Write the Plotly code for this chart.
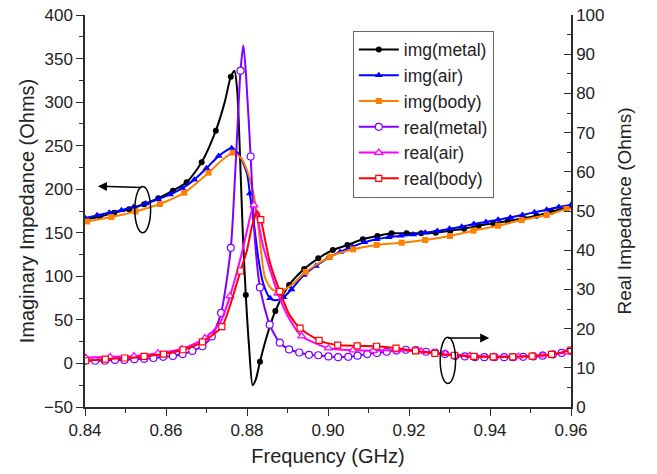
import plotly.graph_objects as go

# ---------------- data (frequency in GHz, impedance in Ohms) ----------------
# Imaginary part, metal environment (markers + extra points shaping the resonance)
img_metal_f = [0.8437, 0.8472, 0.8509, 0.8546, 0.8581, 0.8617, 0.8651, 0.8688, 0.8723,
               0.8760, 0.8797, 0.8832, 0.8870, 0.8904, 0.8941, 0.8976, 0.9012, 0.9048,
               0.9086, 0.9122, 0.9157, 0.9194, 0.9230, 0.9266, 0.9302, 0.9336, 0.9372,
               0.9408, 0.9444, 0.9481, 0.9515, 0.9552, 0.9589]
img_metal_v = [168.4, 173.0, 177.0, 182.7, 189.6, 198.3, 208.0, 230.9, 267.2,
               329.2, 78.5, 2.0, 60.2, 90.0, 108.4, 120.7, 130.2, 135.9,
               142.5, 146.3, 149.4, 149.4, 149.4, 150.1, 152.4, 154.7, 158.1,
               160.8, 163.5, 166.6, 169.6, 174.2, 178.8]
img_metal_f_extra = [0.8400, 0.8745, 0.8769, 0.8776, 0.8783, 0.8790, 0.8805, 0.8814, 0.8822, 0.8850, 0.9600]
img_metal_v_extra = [165.5, 300.0, 336.0, 312.0, 235.0, 145.0, 20.0, -25.0, -18.0, 33.0, 179.5]

# Imaginary part, air
img_air_f = [0.840, 0.843, 0.846, 0.849, 0.852, 0.855, 0.858, 0.861, 0.864, 0.867, 0.870,
             0.873, 0.8762, 0.8807, 0.8857, 0.889, 0.891, 0.894, 0.897, 0.900, 0.903, 0.906,
             0.909, 0.912, 0.915, 0.918, 0.921, 0.924, 0.927, 0.930, 0.933, 0.936, 0.939,
             0.942, 0.945, 0.948, 0.951, 0.954, 0.957, 0.960]
img_air_v = [167.0, 170.0, 173.0, 176.0, 179.5, 183.5, 188.5, 194.0, 201.0, 211.0, 224.0,
             238.0, 247.0, 195.0, 74.7, 76.0, 85.0, 101.5, 112.0, 121.0, 128.0, 134.0,
             139.0, 142.5, 145.0, 146.5, 148.0, 150.0, 152.0, 154.5, 157.0, 160.0, 162.5,
             165.0, 167.5, 170.5, 173.5, 176.5, 179.5, 182.0]
img_air_f_extra = [0.8780, 0.8800, 0.8820, 0.8828, 0.8840, 0.8870]
img_air_v_extra = [240.0, 218.0, 150.0, 120.7, 92.0, 72.5]

# Imaginary part, body
img_body_f = [0.8405, 0.8465, 0.8525, 0.8585, 0.8645, 0.8705, 0.8765, 0.8825, 0.8885,
              0.8945, 0.9005, 0.9062, 0.9120, 0.9182, 0.9240, 0.9301, 0.9359, 0.9420,
              0.9478, 0.9540, 0.9589]
img_body_v = [163.0, 168.0, 174.5, 183.0, 196.0, 219.0, 242.0, 170.0, 83.0,
              105.0, 122.5, 131.0, 136.0, 138.6, 141.7, 146.3, 152.4, 158.1,
              164.6, 170.4, 177.3]
img_body_f_extra = [0.8400, 0.8735, 0.8785, 0.8800, 0.8816, 0.8844, 0.8860, 0.8873, 0.8910, 0.9600]
img_body_v_extra = [162.7, 232.0, 236.0, 222.0, 195.0, 99.5, 86.0, 82.5, 90.0, 178.0]

# Real part, metal
real_metal_f = [0.8400, 0.8425, 0.8449, 0.8474, 0.8497, 0.8522, 0.8546, 0.8569, 0.8593,
                0.8617, 0.8641, 0.8665, 0.8690, 0.8713, 0.8736, 0.8760, 0.8784, 0.8809,
                0.8832, 0.8856, 0.8881, 0.8904, 0.8929, 0.8953, 0.8976, 0.9001, 0.9025,
                0.9050, 0.9073, 0.9097, 0.9121, 0.9145, 0.9169, 0.9192, 0.9217, 0.9242,
                0.9264, 0.9289, 0.9314, 0.9338, 0.9363, 0.9386, 0.9411, 0.9435, 0.9457,
                0.9482, 0.9507, 0.9530, 0.9555, 0.9577, 0.9600]
real_metal_v = [11.8, 11.8, 11.8, 12.0, 12.0, 12.2, 12.3, 12.5, 12.8,
                13.0, 13.5, 14.3, 15.5, 18.0, 24.0, 40.6, 85.8, 63.9,
                30.5, 21.0, 16.4, 14.7, 13.9, 13.3, 13.2, 12.9, 12.7,
                12.8, 13.1, 13.5, 13.8, 14.1, 14.4, 14.6, 14.5, 14.1,
                13.9, 13.5, 13.0, 12.9, 12.7, 12.7, 12.7, 12.7, 12.7,
                12.8, 12.9, 13.1, 13.4, 13.8, 14.3]
real_metal_f_extra = [0.8772, 0.8791, 0.8798, 0.8820]
real_metal_v_extra = [62.0, 92.3, 84.0, 42.0]

# Real part, air
real_air_f = [0.8402, 0.8462, 0.8521, 0.8580, 0.8639, 0.8696, 0.8758, 0.8817, 0.8876,
              0.8935, 0.9001, 0.9062, 0.9112, 0.9170, 0.9230, 0.9290, 0.9350, 0.9410,
              0.9470, 0.9530, 0.9590]
real_air_v = [12.6, 12.8, 13.0, 13.7, 14.8, 17.6, 28.3, 51.5, 29.0,
              18.1, 15.0, 14.5, 14.4, 14.5, 14.2, 13.6, 13.1, 12.9,
              12.9, 13.2, 14.0]
real_air_f_extra = [0.8400, 0.8733, 0.8787, 0.8800, 0.8840, 0.8865, 0.8906, 0.9600]
real_air_v_extra = [12.5, 21.4, 39.2, 45.0, 40.9, 32.4, 22.2, 14.5]

# Real part, body
real_body_f = [0.8402, 0.8450, 0.8498, 0.8546, 0.8594, 0.8642, 0.8690, 0.8738, 0.8784,
               0.8834, 0.8881, 0.8931, 0.8978, 0.9024, 0.9072, 0.9120, 0.9168, 0.9216,
               0.9264, 0.9312, 0.9360, 0.9408, 0.9456, 0.9504, 0.9552, 0.9600]
real_body_v = [11.8, 12.2, 12.5, 12.9, 13.5, 14.6, 16.6, 20.5, 34.7,
               47.8, 29.5, 20.1, 17.0, 15.8, 15.6, 15.5, 15.0, 14.3,
               13.7, 13.2, 12.9, 12.8, 12.8, 13.0, 13.4, 14.5]
real_body_f_extra = [0.8400, 0.8760, 0.8800, 0.8812, 0.8825, 0.8857, 0.8905]
real_body_v_extra = [11.7, 26.5, 40.0, 46.0, 50.0, 36.7, 23.5]

# ---------------- styling ----------------
FONT = "Arial, Liberation Sans, sans-serif"
AX = "#2b2b2b"

series = [
    ("img(metal)", "#000000", "circle", False, "y", img_metal_f, img_metal_v, img_metal_f_extra, img_metal_v_extra, 6),
    ("img(air)", "#0000FF", "triangle-up", False, "y", img_air_f, img_air_v, img_air_f_extra, img_air_v_extra, 7),
    ("img(body)", "#FF7F00", "square", False, "y", img_body_f, img_body_v, img_body_f_extra, img_body_v_extra, 6),
    ("real(metal)", "#8000FF", "circle", True, "y2", real_metal_f, real_metal_v, real_metal_f_extra, real_metal_v_extra, 7),
    ("real(air)", "#FF00FF", "triangle-up", True, "y2", real_air_f, real_air_v, real_air_f_extra, real_air_v_extra, 7),
    ("real(body)", "#FF0000", "square", True, "y2", real_body_f, real_body_v, real_body_f_extra, real_body_v_extra, 6),
]

fig = go.Figure()

for name, color, symbol, hollow, yax, fm, vm, fe, ve, msize in series:
    pts = sorted(zip(fm + fe, vm + ve))
    lf = [p[0] for p in pts]
    lv = [p[1] for p in pts]
    marker = dict(symbol=symbol, size=msize, color="white" if hollow else color,
                  line=dict(color=color, width=1.2 if hollow else 0))
    # continuous curve
    fig.add_trace(go.Scatter(x=lf, y=lv, yaxis=yax, mode="lines", showlegend=False,
                             line=dict(color=color, width=2, shape="spline", smoothing=0.7),
                             legendgroup=name, hoverinfo="skip"))
    # symbols on the sampled points
    fig.add_trace(go.Scatter(x=fm, y=vm, yaxis=yax, mode="markers", showlegend=False,
                             marker=marker, legendgroup=name, name=name))
    # legend entry
    fig.add_trace(go.Scatter(x=[None], y=[None], yaxis=yax, mode="lines+markers", name=name,
                             line=dict(color=color, width=2), marker=marker, legendgroup=name))

axis_common = dict(showline=True, linecolor=AX, linewidth=1.5, automargin=False,
                   ticklen=7, tickwidth=1.3, tickcolor=AX, showgrid=False, zeroline=False,
                   tickfont=dict(family=FONT, size=17, color="#222"))

fig.update_layout(
    width=657, height=474,
    margin=dict(l=85, r=86, t=15, b=67, autoexpand=False),
    paper_bgcolor="white", plot_bgcolor="white",
    font=dict(family=FONT, color="#222"),
    xaxis=dict(range=[0.84, 0.96], dtick=0.02, tickformat=".2f", ticks="outside",
               minor=dict(dtick=0.01, ticklen=4, ticks="outside", tickcolor=AX),
               title=dict(text="Frequency (GHz)", font=dict(family=FONT, size=20), standoff=10),
               **axis_common),
    yaxis=dict(range=[-50, 400], dtick=50, ticks="outside",
               minor=dict(dtick=25, ticklen=4, ticks="outside", tickcolor=AX),
               title=dict(text="Imaginary Impedance (Ohms)", font=dict(family=FONT, size=20), standoff=4),
               **axis_common),
    yaxis2=dict(range=[0, 100], dtick=10, overlaying="y", side="right", ticks="inside",
                minor=dict(dtick=5, ticklen=4, ticks="inside", tickcolor=AX),
                title=dict(text="Real Impedance (Ohms)", font=dict(family=FONT, size=19), standoff=14),
                **axis_common),
    legend=dict(x=0.551, y=0.96, xanchor="left", yanchor="top",
                bordercolor="#666", borderwidth=1, bgcolor="white",
                font=dict(family=FONT, size=17.5, color="#222"), tracegroupgap=0,
                itemwidth=40),
    showlegend=True,
)

# ellipses grouping the curves, with arrows pointing to their axis
fig.add_shape(type="circle", xref="x", yref="y", x0=0.8523, x1=0.8562, y0=150, y1=203,
              line=dict(color="black", width=1.5))
fig.add_annotation(x=0.8432, y=203.5, ax=0.8543, ay=202, xref="x", yref="y", axref="x", ayref="y",
                   text="", showarrow=True, arrowhead=2, arrowsize=1.2, arrowwidth=1.5, arrowcolor="black")
fig.add_shape(type="circle", xref="x", yref="y2", x0=0.9277, x1=0.9315, y0=6.0, y1=17.8,
              line=dict(color="black", width=1.5))
fig.add_annotation(x=0.9398, y=17.6, ax=0.9293, ay=17.6, xref="x", yref="y2", axref="x", ayref="y2",
                   text="", showarrow=True, arrowhead=2, arrowsize=1.2, arrowwidth=1.5, arrowcolor="black")

fig.write_html("out.html")
